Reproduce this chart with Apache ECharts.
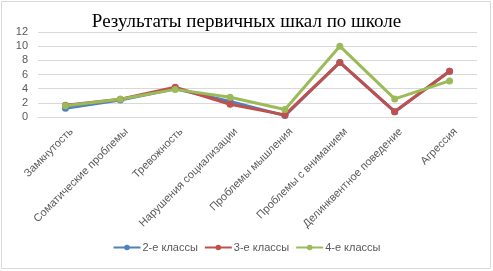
<!DOCTYPE html>
<html><head><meta charset="utf-8">
<script src="https://cdn.jsdelivr.net/npm/echarts@6/dist/echarts.min.js"></script>
<style>html,body{margin:0;padding:0;background:#fff}#c{width:493px;height:271px}</style>
</head><body><div id="c"></div>
<script>
const categories = ['Замкнутость','Соматические проблемы','Тревожность','Нарушения социализации','Проблемы мышления','Проблемы с вниманием','Делинквентное поведение','Агрессия'];
const grade2 = [1.25, 2.4, 4.0, 2.2, 0.2, 7.7, 0.75, 6.45];
const grade3 = [1.65, 2.5, 4.2, 1.8, 0.3, 7.7, 0.75, 6.45];
const grade4 = [1.6, 2.5, 3.9, 2.8, 1.05, 10.0, 2.55, 5.1];
const seriesNames = ['2-е классы','3-е классы','4-е классы'];
const colors = ['#4F81BD','#C0504D','#9BBB59'];
const yTicks = [0,2,4,6,8,10,12];

const chart = echarts.init(document.getElementById('c'));
const data = [grade2, grade3, grade4];
chart.setOption({
  animation:false,
  title:{text:'Результаты первичных шкал по школе',left:'center',top:8,
    textStyle:{fontFamily:'Liberation Serif',fontSize:19,fontWeight:'normal',color:'#000'}},
  graphic:[{type:'rect',shape:{x:1.5,y:1.5,width:489,height:267},style:{fill:'none',stroke:'#d9d9d9',lineWidth:1},z:-1}],
  grid:{left:38,right:16,top:32,bottom:154},
  legend:{top:237,left:'center',itemWidth:27,itemHeight:7,itemGap:6,
    textStyle:{fontFamily:'Liberation Sans',fontSize:11,color:'#595959',padding:[0,0,0,-3]},
    data:seriesNames},
  xAxis:{type:'category',data:categories,boundaryGap:true,
    axisLine:{lineStyle:{color:'#d9d9d9'}},axisTick:{show:false},
    axisLabel:{rotate:45,interval:0,fontFamily:'Liberation Sans',fontSize:11,color:'#595959',margin:7,
      verticalAlign:'top',padding:[3,0,0,0]}},
  yAxis:{type:'value',min:0,max:12,interval:2,
    axisLine:{show:false},axisTick:{show:false},
    splitLine:{lineStyle:{color:'#d9d9d9'}},
    axisLabel:{fontFamily:'Liberation Sans',fontSize:11,color:'#595959',margin:10}},
  series:data.map((d,i)=>({name:seriesNames[i],type:'line',data:d,
    symbol:'circle',symbolSize:7,color:colors[i],
    lineStyle:{width:3,color:colors[i]},itemStyle:{color:colors[i]}}))
});
</script></body></html>
